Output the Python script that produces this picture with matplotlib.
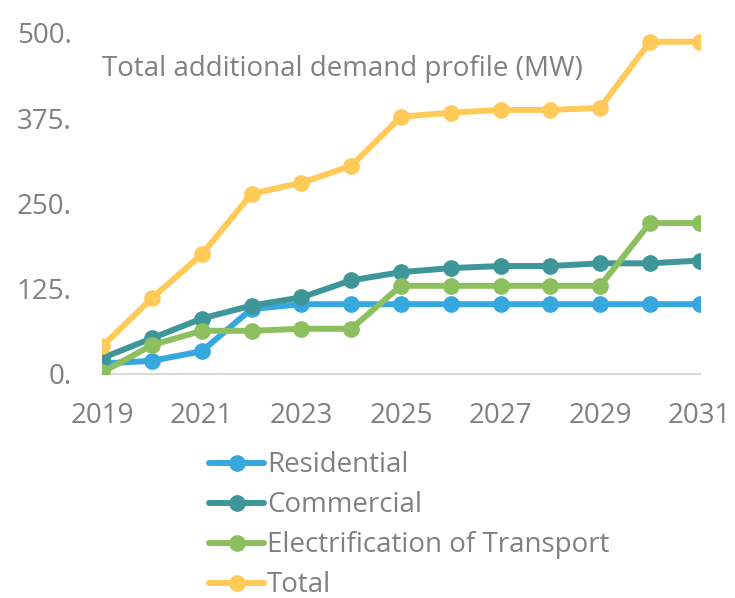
import matplotlib
matplotlib.use('Agg')
import matplotlib.pyplot as plt

plt.rcParams['font.family'] = ['Open Sans', 'DejaVu Sans']

years = list(range(2019, 2032))
residential = [15, 19, 33, 95, 102, 102, 102, 102, 102, 102, 102, 102, 102]
commercial = [23, 52, 81, 100, 112, 137, 149, 155, 158, 158, 162, 162, 166]
transport = [2, 42, 63, 63, 66, 66, 129, 129, 129, 129, 129, 221, 221]
total = [40, 111, 175, 264, 280, 305, 377, 383, 387, 387, 390, 487, 487]

series_names = ['Residential', 'Commercial', 'Electrification of Transport', 'Total']
colors = ['#36A8DD', '#3E9699', '#8CBF5D', '#FFCA57']
ytick_vals = [0, 125, 250, 375, 500]
ytick_labels = ['0.', '125.', '250.', '375.', '500.']

grey = '#808080'

fig = plt.figure(figsize=(7.35, 5.98), dpi=100)
ax = fig.add_axes([0.139, 0.375, 0.813, 0.57])

for vals, name, c in zip([residential, commercial, transport, total], series_names, colors):
    ax.plot(years, vals, color=c, lw=4.3, marker='o', ms=11, label=name,
            solid_capstyle='round', solid_joinstyle='round')

ax.set_xlim(2019, 2031)
ax.set_ylim(0, 500)
ax.set_xticks(years[::2])
ax.set_yticks(ytick_vals, ytick_labels)
ax.tick_params(length=0, labelsize=20, labelcolor=grey)
ax.tick_params(axis='y', pad=22)
ax.tick_params(axis='x', pad=20)

for s in ['top', 'right', 'left']:
    ax.spines[s].set_visible(False)
ax.spines['bottom'].set_color('#D9D9D9')
ax.spines['bottom'].set_linewidth(1.5)
ax.spines['bottom'].set_zorder(0)

# chart title sits inside the plot area
ax.text(0.0, 0.895, 'Total additional demand profile (MW)', transform=ax.transAxes,
        fontsize=20, color=grey, va='center', ha='left')

fig.legend(loc='upper left', bbox_to_anchor=(0.284, 0.245), frameon=False,
           fontsize=20, labelcolor=grey, handlelength=2.0, handletextpad=0.1,
           labelspacing=0.43, borderpad=0, borderaxespad=0)

fig.savefig('out.png', dpi=100)
